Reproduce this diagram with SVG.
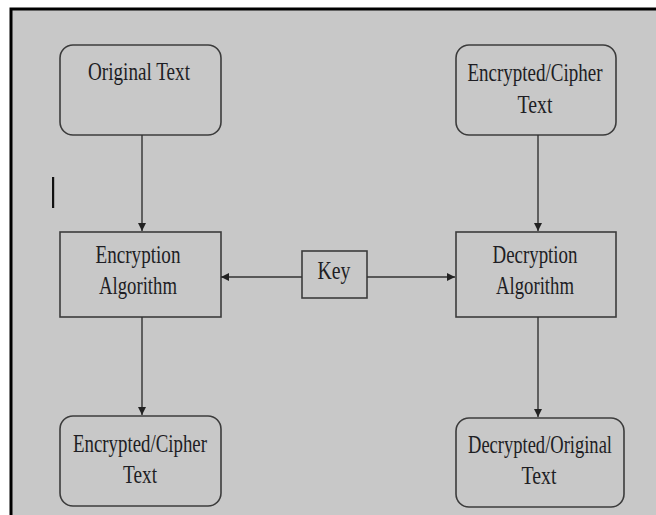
<svg xmlns="http://www.w3.org/2000/svg" width="656" height="515" viewBox="0 0 656 515">
<defs>
<style>
.box{fill:none;stroke:#3c3c3c;stroke-width:1.6}
.t{font-family:"Liberation Serif","Times New Roman",serif;font-size:25px;fill:#1e1e24;text-anchor:middle}
.c{stroke:#333;stroke-width:1.4;fill:none}
</style>
<marker id="ah" viewBox="0 0 10 10" refX="10" refY="5" markerWidth="8" markerHeight="8" markerUnits="userSpaceOnUse" orient="auto">
<path d="M0,0 L10,5 L0,10 z" fill="#222"/>
</marker>
</defs>
<rect x="0" y="0" width="656" height="515" fill="#ffffff"/>
<rect x="11" y="9" width="650" height="515" fill="#c8c8c8" stroke="#000" stroke-width="3"/>
<rect x="52" y="177" width="2.2" height="31" fill="#111"/>

<g id="original-text">
<rect class="box" x="60" y="45" width="161" height="90" rx="13"/>
<text class="t" x="139" y="80" textLength="102" lengthAdjust="spacingAndGlyphs">Original Text</text>
</g>
<g id="encryption-algorithm">
<rect class="box" x="60" y="232" width="161" height="85"/>
<text class="t" x="138" y="263" textLength="85" lengthAdjust="spacingAndGlyphs">Encryption</text>
<text class="t" x="138" y="294" textLength="78" lengthAdjust="spacingAndGlyphs">Algorithm</text>
</g>
<g id="cipher-text-left">
<rect class="box" x="60" y="416" width="161" height="90" rx="13"/>
<text class="t" x="140" y="452" textLength="134" lengthAdjust="spacingAndGlyphs">Encrypted/Cipher</text>
<text class="t" x="140" y="483" textLength="34" lengthAdjust="spacingAndGlyphs">Text</text>
</g>
<g id="key">
<rect class="box" x="302" y="251" width="65" height="47"/>
<text class="t" x="334" y="279" textLength="33" lengthAdjust="spacingAndGlyphs">Key</text>
</g>
<g id="cipher-text-right">
<rect class="box" x="456" y="45" width="160" height="90" rx="13"/>
<text class="t" x="535" y="81" textLength="135" lengthAdjust="spacingAndGlyphs">Encrypted/Cipher</text>
<text class="t" x="535" y="113" textLength="35" lengthAdjust="spacingAndGlyphs">Text</text>
</g>
<g id="decryption-algorithm">
<rect class="box" x="456" y="232" width="160" height="85"/>
<text class="t" x="535" y="263" textLength="85" lengthAdjust="spacingAndGlyphs">Decryption</text>
<text class="t" x="535" y="294" textLength="78" lengthAdjust="spacingAndGlyphs">Algorithm</text>
</g>
<g id="decrypted-text">
<rect class="box" x="456" y="418" width="168" height="89" rx="13"/>
<text class="t" x="540" y="453" textLength="144" lengthAdjust="spacingAndGlyphs">Decrypted/Original</text>
<text class="t" x="539" y="484" textLength="35" lengthAdjust="spacingAndGlyphs">Text</text>
</g>

<g id="connectors">
<line class="c" x1="142" y1="135" x2="142" y2="231" marker-end="url(#ah)"/>
<line class="c" x1="142" y1="317" x2="142" y2="415" marker-end="url(#ah)"/>
<line class="c" x1="302" y1="277" x2="221" y2="277" marker-end="url(#ah)"/>
<line class="c" x1="367" y1="277" x2="455" y2="277" marker-end="url(#ah)"/>
<line class="c" x1="538" y1="135" x2="538" y2="231" marker-end="url(#ah)"/>
<line class="c" x1="538" y1="317" x2="538" y2="417" marker-end="url(#ah)"/>
</g>
</svg>
